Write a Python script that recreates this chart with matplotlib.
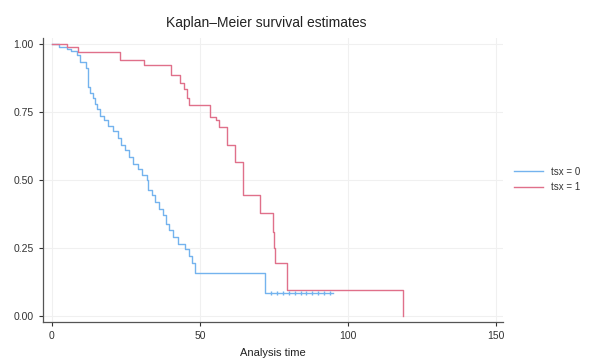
import matplotlib
matplotlib.use("Agg")
import matplotlib.pyplot as plt
from matplotlib.lines import Line2D

plt.rcParams['font.family'] = ['Liberation Sans', 'DejaVu Sans']

# Group tsx = 0 (blue): step times and survival after each step
t0 = [0, 2.5, 5, 6.5, 8.5, 9.5, 11.5, 12.3, 13.0, 13.8, 14.6, 15.3, 16.2, 17.5, 19.0,
      20.5, 22.5, 23.3, 24.8, 26.0, 27.5, 29.0, 30.5, 32.0, 32.6, 33.8, 35.0, 36.2,
      37.4, 38.5, 39.5, 41.0, 42.5, 45.0, 46.3, 47.2, 48.2, 72.0]
s0 = [1.0, 0.99, 0.983, 0.975, 0.96, 0.935, 0.91, 0.843, 0.82, 0.80, 0.78, 0.76, 0.735,
      0.72, 0.70, 0.68, 0.655, 0.63, 0.61, 0.585, 0.56, 0.54, 0.52, 0.50, 0.465, 0.445,
      0.42, 0.395, 0.37, 0.34, 0.315, 0.29, 0.265, 0.245, 0.22, 0.195, 0.158, 0.083]
end0 = 95
cens0 = [74, 76, 78, 80, 82, 84, 86, 88, 90, 92, 94]

# Group tsx = 1 (red)
t1 = [0, 5, 8.9, 23, 31, 40.4, 43.2, 44.5, 45.5, 46.2, 53.4, 55.5, 56.5, 59, 61.8,
      64.6, 70.3, 74.6, 75.0, 75.4, 79.3, 118.6]
s1 = [1.0, 0.99, 0.972, 0.941, 0.923, 0.886, 0.855, 0.835, 0.80, 0.776, 0.733, 0.72,
      0.696, 0.629, 0.567, 0.445, 0.377, 0.31, 0.25, 0.195, 0.096, 0.0]
end1 = 118.6

labels = ["tsx = 0", "tsx = 1"]
colors = ["#74b3ee", "#e0708a"]
xticks = [0, 50, 100, 150]
yticks = [0.0, 0.25, 0.5, 0.75, 1.0]
ytick_labels = ["0.00", "0.25", "0.50", "0.75", "1.00"]

fig = plt.figure(figsize=(5.96, 3.59), dpi=100)
ax = fig.add_axes([0.0721, 0.1031, 0.772, 0.791])

ax.step(t0 + [end0], s0 + [s0[-1]], where='post', color=colors[0], lw=1.0)
ax.step(t1 + [end1], s1 + [s1[-1]], where='post', color=colors[1], lw=1.0)
ax.plot(cens0, [s0[-1]] * len(cens0), ls='none', marker='|', ms=3,
        color=colors[0], mew=1.0)

ax.set_xlim(-3, 152.4)
ax.set_ylim(-0.022, 1.022)
ax.set_xticks(xticks)
ax.set_yticks(yticks)
ax.set_yticklabels(ytick_labels)
ax.tick_params(labelsize=7.5, colors='#333333', length=3, width=0.8)
ax.grid(True, color='#f0f0f0', lw=0.8)
ax.set_axisbelow(True)
for sp in ['top', 'right']:
    ax.spines[sp].set_visible(False)
for sp in ['left', 'bottom']:
    ax.spines[sp].set_color('#555555')
    ax.spines[sp].set_linewidth(0.9)

ax.set_xlabel("Analysis time", fontsize=8, color='#222222', labelpad=5)
fig.text(266 / 596, 1 - 23 / 359, "Kaplan\u2013Meier survival estimates",
         fontsize=10, color='#222222', ha='center', va='center')

handles = [Line2D([0], [0], color=c, lw=1.0) for c in colors]
fig.legend(handles, labels, loc='center left', bbox_to_anchor=(0.848, 0.5),
           frameon=False, fontsize=7, handlelength=3.0, handletextpad=0.8,
           labelspacing=0.6, labelcolor='#333333')

fig.savefig("out.png", dpi=100)
